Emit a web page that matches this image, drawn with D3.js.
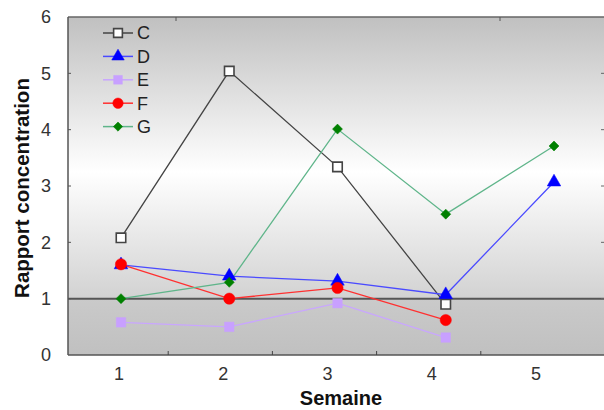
<!DOCTYPE html>
<html><head><meta charset="utf-8">
<script src="https://cdn.jsdelivr.net/npm/d3@7/dist/d3.min.js"></script>
<style>body{margin:0;background:#fff;}svg{display:block;font-family:Arial,"Liberation Sans",sans-serif;}</style>
</head><body><svg id="c" width="604" height="410"></svg>
<script>
const weeks = [1, 2, 3, 4, 5];
const yTicks = [0, 1, 2, 3, 4, 5, 6];
const seriesNames = ["C", "D", "E", "F", "G"];
const valuesC = [2.08, 5.04, 3.34, 0.9, null];
const valuesD = [1.6, 1.4, 1.31, 1.07, 3.07];
const valuesE = [0.58, 0.5, 0.92, 0.31, null];
const valuesF = [1.61, 1.0, 1.19, 0.62, null];
const valuesG = [1.0, 1.29, 4.01, 2.5, 3.71];
const refLine = 1;
const topTicks = [1, 3];

const styles = {
  C: {line: "#444", fill: "#fff", stroke: "#444", shape: d3.symbolSquare, size: 90, rot: 0},
  D: {line: "#4a4aff", fill: "#0000ff", stroke: "#0000ff", shape: d3.symbolTriangle, size: 80, rot: 0},
  E: {line: "#c9a6ff", fill: "#c8a0ff", stroke: "#c8a0ff", shape: d3.symbolSquare, size: 90, rot: 0},
  F: {line: "#ff3030", fill: "#ff0000", stroke: "#ff0000", shape: d3.symbolCircle, size: 100, rot: 0},
  G: {line: "#5fb58a", fill: "#008000", stroke: "#008000", shape: d3.symbolSquare, size: 50, rot: 45}
};
const series = [valuesC, valuesD, valuesE, valuesF, valuesG].map((v, i) => ({name: seriesNames[i], values: v}));

const svg = d3.select("#c");
const L = 68, R = 612, T = 17, B = 355;
const y = d3.scaleLinear().domain([0, 6]).range([B, T]);
const xData = d3.scalePoint().domain(weeks).range([121, 554]);
const xAxis = d3.scaleBand().domain(weeks).range([67, 588]);
const xTop = d3.scaleLinear().domain([0, 4]).range([14, 662]);

const defs = svg.append("defs");
const g1 = defs.append("linearGradient").attr("id", "bgTop").attr("x1", 0).attr("y1", 0).attr("x2", 0).attr("y2", 1);
g1.append("stop").attr("offset", "0%").attr("stop-color", "#c0c0c0");
g1.append("stop").attr("offset", "55%").attr("stop-color", "#ffffff");
g1.append("stop").attr("offset", "100%").attr("stop-color", "#d2d2d2");
const g2 = defs.append("linearGradient").attr("id", "bgBot").attr("x1", 0).attr("y1", 0).attr("x2", 0).attr("y2", 1);
g2.append("stop").attr("offset", "0%").attr("stop-color", "#cacaca");
g2.append("stop").attr("offset", "100%").attr("stop-color", "#c0c0c0");

svg.append("rect").attr("x", L).attr("y", y(6)).attr("width", R - L).attr("height", y(refLine) - y(6)).attr("fill", "url(#bgTop)");
svg.append("rect").attr("x", L).attr("y", y(refLine)).attr("width", R - L).attr("height", y(0) - y(refLine)).attr("fill", "url(#bgBot)");

// reference line
svg.append("line").attr("x1", L).attr("x2", R).attr("y1", y(refLine)).attr("y2", y(refLine))
  .attr("stroke", "#555").attr("stroke-width", 2);

// frame
svg.append("line").attr("x1", L).attr("x2", R).attr("y1", T).attr("y2", T).attr("stroke", "#666").attr("stroke-width", 1.5);
svg.append("line").attr("x1", L).attr("x2", R).attr("y1", B).attr("y2", B).attr("stroke", "#555").attr("stroke-width", 1.5);
svg.append("line").attr("x1", L).attr("x2", L).attr("y1", T).attr("y2", B).attr("stroke", "#555").attr("stroke-width", 1.5);

// left axis ticks (inward) and labels
const yt = svg.append("g");
yt.selectAll("line.l").data(yTicks.filter(d => d > 0 && d < 6)).join("line")
  .attr("x1", L).attr("x2", L + 3).attr("y1", d => y(d)).attr("y2", d => y(d)).attr("stroke", "#555");
yt.selectAll("line.r").data(yTicks.filter(d => d > 0 && d < 6)).join("line").attr("class", "r")
  .attr("x1", 601).attr("x2", 604).attr("y1", d => y(d)).attr("y2", d => y(d)).attr("stroke", "#666");
yt.selectAll("text").data(yTicks).join("text")
  .attr("x", 51).attr("y", d => y(d)).attr("dy", "0.36em").attr("text-anchor", "end")
  .attr("font-size", 18).attr("fill", "#333").text(d => d);

// bottom axis ticks & labels
const xt = svg.append("g");
xt.selectAll("line").data(weeks.slice(1)).join("line")
  .attr("x1", d => xAxis(d) - 3).attr("x2", d => xAxis(d) - 3).attr("y1", B).attr("y2", B - 4).attr("stroke", "#444");
xt.selectAll("text").data(weeks).join("text")
  .attr("x", d => xAxis(d) + xAxis.bandwidth() / 2).attr("y", 380).attr("text-anchor", "middle")
  .attr("font-size", 18).attr("fill", "#333").text(d => d);
svg.append("g").selectAll("line").data(topTicks).join("line")
  .attr("x1", d => xTop(d)).attr("x2", d => xTop(d)).attr("y1", T).attr("y2", T + 4).attr("stroke", "#555");

// axis titles
svg.append("text").attr("transform", `translate(29,${(T + B) / 2 + 2}) rotate(-90)`).attr("text-anchor", "middle")
  .attr("font-size", 20.5).attr("font-weight", "bold").attr("fill", "#111").text("Rapport concentration");
svg.append("text").attr("x", 341).attr("y", 405).attr("text-anchor", "middle")
  .attr("font-size", 20).attr("font-weight", "bold").attr("fill", "#111").text("Semaine");

// lines
const line = d3.line().defined(d => d.v != null).x(d => xData(d.w)).y(d => y(d.v));
series.forEach(s => {
  const pts = s.values.map((v, i) => ({w: weeks[i], v}));
  const st = styles[s.name];
  svg.append("path").datum(pts).attr("d", line).attr("fill", "none").attr("stroke", st.line).attr("stroke-width", 1.3);
});
series.forEach(s => {
  const pts = s.values.map((v, i) => ({w: weeks[i], v})).filter(d => d.v != null);
  const st = styles[s.name];
  svg.append("g").selectAll("path").data(pts).join("path")
    .attr("d", d3.symbol().type(st.shape).size(st.size))
    .attr("transform", d => `translate(${xData(d.w)},${y(d.v)}) rotate(${st.rot})`)
    .attr("fill", st.fill).attr("stroke", st.stroke).attr("stroke-width", s.name === "C" ? 1.6 : 0.5);
});

// legend
const leg = svg.append("g");
series.forEach((s, i) => {
  const st = styles[s.name];
  const ly = 33 + i * 23.4;
  leg.append("line").attr("x1", 103).attr("x2", 133).attr("y1", ly).attr("y2", ly).attr("stroke", st.line).attr("stroke-width", 1.5);
  leg.append("path").attr("d", d3.symbol().type(st.shape).size(st.size * 0.85)).attr("transform", `translate(118,${ly}) rotate(${st.rot})`)
    .attr("fill", st.fill).attr("stroke", st.stroke).attr("stroke-width", s.name === "C" ? 1.6 : 0.5);
  leg.append("text").attr("x", 137).attr("y", ly).attr("dy", "0.36em").attr("font-size", 18).attr("fill", "#222").text(s.name);
});
</script></body></html>
